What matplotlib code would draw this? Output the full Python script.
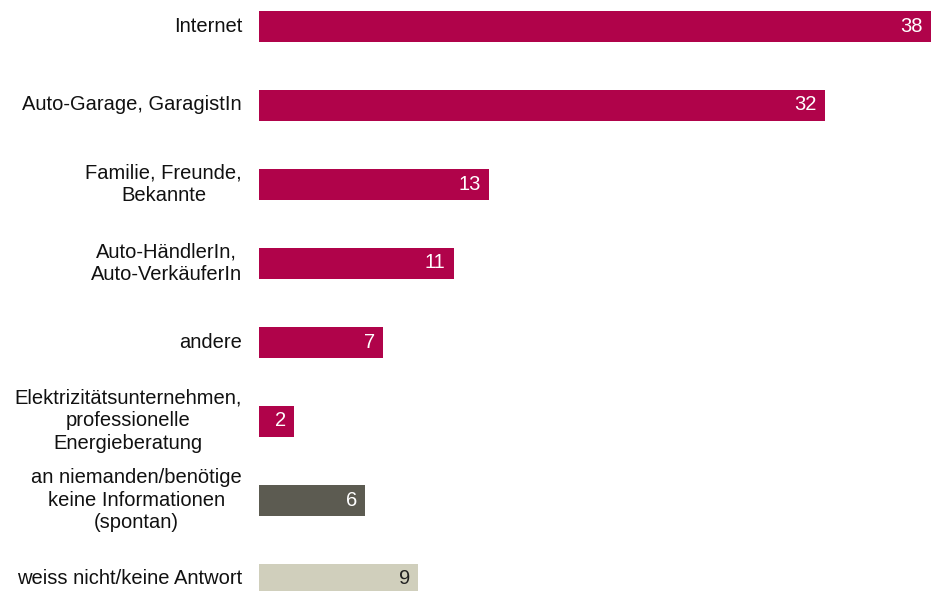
import matplotlib
matplotlib.use("Agg")
import matplotlib.pyplot as plt

categories = [
    "Internet",
    "Auto-Garage, GaragistIn",
    "Familie, Freunde,\nBekannte",
    "Auto-HändlerIn,\nAuto-VerkäuferIn",
    "andere",
    "Elektrizitätsunternehmen,\nprofessionelle\nEnergieberatung",
    "an niemanden/benötige\nkeine Informationen\n(spontan)",
    "weiss nicht/keine Antwort",
]
values = [38, 32, 13, 11, 7, 2, 6, 9]
groups = ["source"] * 6 + ["none", "unknown"]

bar_colors = {"source": "#B0034A", "none": "#5C5B51", "unknown": "#D0CFBC"}
text_colors = {"source": "white", "none": "white", "unknown": "#222222"}

plt.rcParams["font.family"] = ["Liberation Sans", "DejaVu Sans"]

W, H = 931, 591
fig = plt.figure(figsize=(W / 100, H / 100), dpi=100)
left_px = 259
ax = fig.add_axes([left_px / W, 0, 1 - left_px / W, 1])

pitch = 79.0
first_center = 26.0
top_lim = -first_center / pitch
bottom_lim = (H - first_center) / pitch

pos = list(range(len(values)))
ax.barh(pos, values, height=31 / pitch,
        color=[bar_colors[g] for g in groups], edgecolor="none")

ax.set_xlim(0, 38)
ax.set_ylim(bottom_lim, top_lim)
ax.axis("off")

for i, (v, g, lab) in enumerate(zip(values, groups, categories)):
    ax.annotate(str(v), xy=(v, i), xytext=(-8, 0), textcoords="offset pixels",
                ha="right", va="center", fontsize=14.5, color=text_colors[g])
    ax.annotate(lab, xy=(0, i), xytext=(-17, 0), textcoords="offset pixels",
                ha="right", va="center", multialignment="center",
                fontsize=14.5, color="#111111", linespacing=1.25,
                annotation_clip=False)

fig.savefig("out.png", dpi=100)
